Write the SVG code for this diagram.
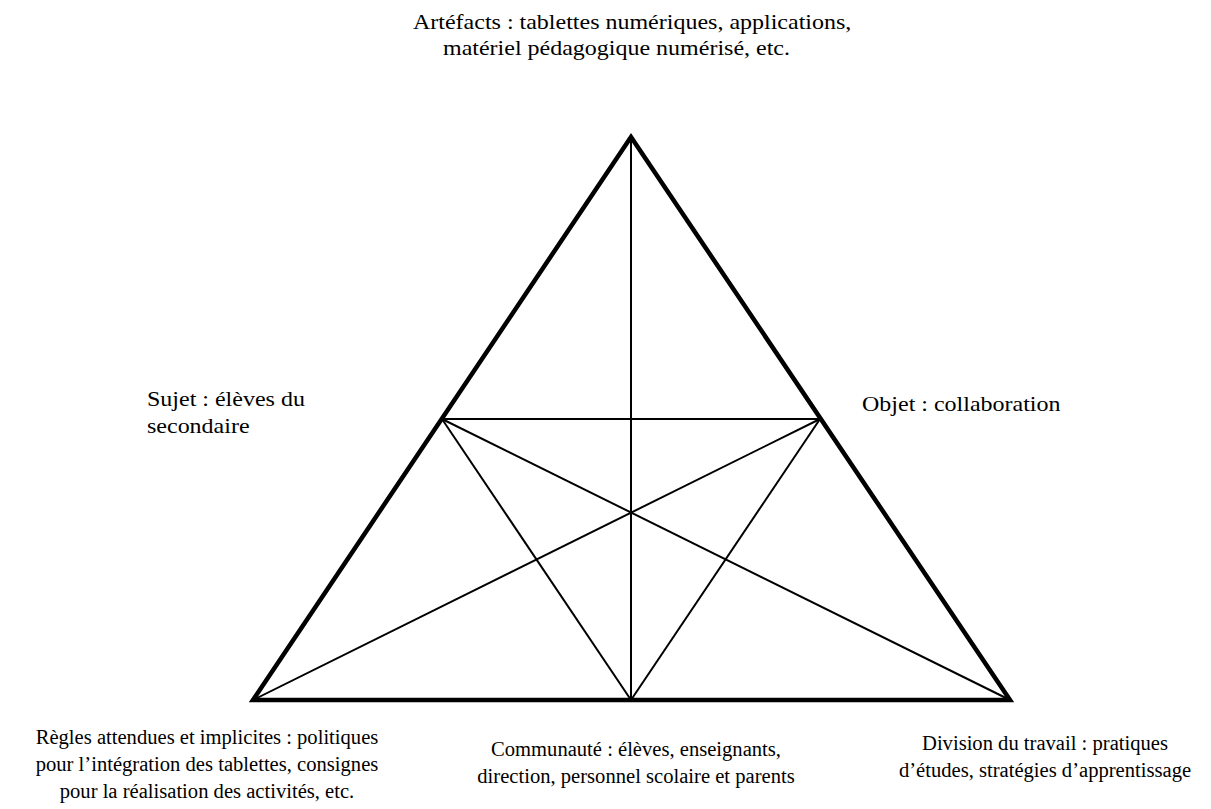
<svg xmlns="http://www.w3.org/2000/svg" width="1211" height="809" viewBox="0 0 1211 809">
  <style>
    .lbl { font-family: "Liberation Serif", "Times New Roman", serif; font-size: 20px; fill: #000; }
    .mid { text-anchor: middle; }
    .outer { fill: none; stroke: #000; stroke-width: 4.5; stroke-linejoin: miter; }
    .inner { stroke: #000; stroke-width: 2; fill: none; }
  </style>
  <rect width="1211" height="809" fill="#fff"/>

  <!-- internal lines: medians and midpoint triangle -->
  <g id="connectors">
    <line class="inner" x1="631" y1="137" x2="631" y2="700"/>
    <line class="inner" x1="442" y1="419" x2="820" y2="419"/>
    <line class="inner" x1="442" y1="419" x2="631" y2="700"/>
    <line class="inner" x1="820" y1="419" x2="631" y2="700"/>
    <line class="inner" x1="442" y1="419" x2="1010" y2="700"/>
    <line class="inner" x1="820" y1="419" x2="253" y2="700"/>
  </g>

  <!-- outer triangle -->
  <g id="triangle">
    <polygon class="outer" points="631,137 1010,700 253,700"/>
  </g>

  <!-- upper labels are set wide (x scale 1.2), lower labels nearly normal -->
  <g id="artefacts">
    <text class="lbl" transform="translate(413,29) scale(1.2,1)">Artéfacts : tablettes numériques, applications,</text>
    <text class="lbl" transform="translate(443,55) scale(1.2,1)">matériel pédagogique numérisé, etc.</text>
  </g>

  <g id="sujet">
    <text class="lbl" transform="translate(147,406) scale(1.2,1)">Sujet : élèves du</text>
    <text class="lbl" transform="translate(147,433) scale(1.2,1)">secondaire</text>
  </g>

  <g id="objet">
    <text class="lbl" transform="translate(862,411) scale(1.2,1)">Objet : collaboration</text>
  </g>

  <g id="regles">
    <text class="lbl mid" transform="translate(207,744) scale(1.03,1)">Règles attendues et implicites : politiques</text>
    <text class="lbl mid" transform="translate(207,771) scale(1.03,1)">pour l’intégration des tablettes, consignes</text>
    <text class="lbl mid" transform="translate(207,798) scale(1.03,1)">pour la réalisation des activités, etc.</text>
  </g>

  <g id="communaute">
    <text class="lbl mid" transform="translate(636,756) scale(1.03,1)">Communauté : élèves, enseignants,</text>
    <text class="lbl mid" transform="translate(636,783) scale(1.03,1)">direction, personnel scolaire et parents</text>
  </g>

  <g id="division">
    <text class="lbl mid" transform="translate(1045,750) scale(1.03,1)">Division du travail : pratiques</text>
    <text class="lbl mid" transform="translate(1045,777) scale(1.03,1)">d’études, stratégies d’apprentissage</text>
  </g>
</svg>
